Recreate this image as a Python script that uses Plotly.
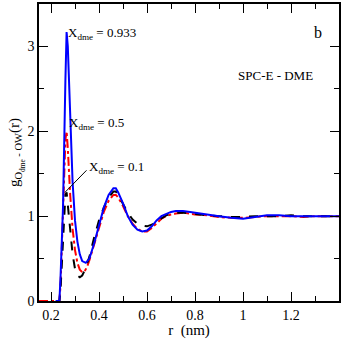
import plotly.graph_objects as go

# radial distances (nm) and g(r)
r_blue = [0.22, 0.235, 0.24, 0.25, 0.26, 0.265, 0.27, 0.28, 0.29, 0.30, 0.31, 0.32, 0.33,
          0.345, 0.36, 0.38, 0.40, 0.42, 0.44, 0.46, 0.47, 0.48, 0.50, 0.52, 0.54, 0.56,
          0.58, 0.60, 0.62, 0.64, 0.66, 0.68, 0.70, 0.72, 0.75, 0.78, 0.80, 0.85, 0.90,
          0.95, 1.0, 1.05, 1.1, 1.15, 1.2, 1.25, 1.3, 1.35, 1.4]
g_blue = [0.0, 0.0, 0.3, 1.1, 2.6, 3.17, 3.0, 2.3, 1.4, 0.95, 0.7, 0.55, 0.47,
          0.45, 0.5, 0.68, 0.9, 1.1, 1.25, 1.33, 1.33, 1.28, 1.15, 1.0, 0.9, 0.84,
          0.82, 0.83, 0.88, 0.95, 1.0, 1.03, 1.05, 1.06, 1.06, 1.05, 1.04, 1.02, 1.0,
          0.98, 0.97, 0.99, 1.01, 1.01, 1.0, 1.0, 1.0, 1.0, 1.0]

r_red = [0.15, 0.235, 0.24, 0.25, 0.26, 0.265, 0.27, 0.28, 0.29, 0.30, 0.31, 0.32, 0.33,
         0.34, 0.35, 0.36, 0.38, 0.40, 0.42, 0.44, 0.46, 0.47, 0.48, 0.50, 0.52, 0.54,
         0.56, 0.58, 0.60, 0.62, 0.64, 0.66, 0.68, 0.70, 0.72, 0.75, 0.78, 0.80, 0.85,
         0.90, 0.95, 1.0, 1.05, 1.1, 1.15, 1.2, 1.25, 1.3, 1.35, 1.4]
g_red = [0.0, 0.0, 0.2, 1.0, 1.9, 2.0, 1.8, 1.25, 0.85, 0.6, 0.45, 0.37, 0.34,
         0.35, 0.4, 0.48, 0.68, 0.88, 1.05, 1.18, 1.25, 1.25, 1.22, 1.12, 1.0, 0.91,
         0.85, 0.82, 0.82, 0.86, 0.92, 0.97, 1.0, 1.02, 1.03, 1.04, 1.03, 1.02, 1.01,
         0.99, 0.98, 0.98, 0.99, 1.0, 1.0, 1.0, 0.99, 1.0, 1.0, 1.0]

r_black = [0.22, 0.235, 0.24, 0.25, 0.26, 0.265, 0.27, 0.28, 0.29, 0.30, 0.31, 0.32,
           0.33, 0.34, 0.36, 0.38, 0.40, 0.42, 0.44, 0.46, 0.47, 0.48, 0.50, 0.52, 0.54,
           0.56, 0.58, 0.60, 0.62, 0.64, 0.66, 0.68, 0.70, 0.72, 0.75, 0.78, 0.80, 0.85,
           0.90, 0.95, 1.0, 1.05, 1.1, 1.15, 1.2, 1.25, 1.3, 1.35, 1.4]
g_black = [0.0, 0.0, 0.15, 0.8, 1.25, 1.28, 1.15, 0.85, 0.55, 0.38, 0.3, 0.28,
           0.3, 0.36, 0.52, 0.75, 0.95, 1.1, 1.22, 1.29, 1.29, 1.25, 1.15, 1.04, 0.96,
           0.91, 0.89, 0.88, 0.9, 0.94, 0.98, 1.01, 1.03, 1.04, 1.04, 1.03, 1.03, 1.01,
           1.0, 0.99, 0.99, 1.0, 1.0, 1.0, 1.01, 1.0, 1.0, 1.0, 1.0]

serif = "Times New Roman, Liberation Serif, serif"
txt = dict(family=serif, color="black", size=13)

fig = go.Figure()
fig.add_trace(go.Scatter(x=r_red, y=g_red, mode="lines",
                         line=dict(color="red", width=2, dash="dashdot")))
fig.add_trace(go.Scatter(x=r_black, y=g_black, mode="lines",
                         line=dict(color="black", width=2, dash="dash")))
fig.add_trace(go.Scatter(x=r_blue, y=g_blue, mode="lines",
                         line=dict(color="blue", width=2)))

# labels on the curves
fig.add_annotation(x=0.262, y=3.15, text="X<sub>dme</sub> = 0.933", showarrow=False,
                   xanchor="left", font=txt)
fig.add_annotation(x=0.265, y=2.09, text="X<sub>dme</sub> = 0.5", showarrow=False,
                   xanchor="left", font=txt)
fig.add_annotation(x=0.35, y=1.57, text="X<sub>dme</sub> = 0.1", showarrow=False,
                   xanchor="left", font=txt)
fig.add_shape(type="line", x0=0.258, y0=1.28, x1=0.348, y1=1.54,
              line=dict(color="black", width=1))
fig.add_annotation(x=1.313, y=3.17, text="b", showarrow=False,
                   font=dict(family=serif, color="black", size=16))
fig.add_annotation(x=1.136, y=2.66, text="SPC-E - DME", showarrow=False, font=txt)

axis_common = dict(showgrid=False, zeroline=False, showline=True, linecolor="black",
                   linewidth=1.5, mirror="allticks", ticks="inside", tickcolor="black",
                   ticklen=9, tickwidth=1,
                   tickfont=dict(family=serif, color="black", size=14))

fig.update_layout(
    width=343, height=339,
    margin=dict(l=39, r=2, t=2, b=36),
    paper_bgcolor="white", plot_bgcolor="white",
    showlegend=False,
    font=dict(family=serif, color="black", size=14),
    xaxis=dict(range=[0.15, 1.4], tickvals=[0.2, 0.4, 0.6, 0.8, 1.0, 1.2],
               ticktext=["0.2", "0.4", "0.6", "0.8", "1", "1.2"],
               minor=dict(dtick=0.1, tick0=0.1, ticks="inside", ticklen=5, tickcolor="black"),
               title=dict(text="r  (nm)", standoff=4,
                          font=dict(family=serif, color="black", size=15)),
               **axis_common),
    yaxis=dict(range=[0, 3.5], tickvals=[0, 1, 2, 3],
               minor=dict(dtick=0.5, ticks="inside", ticklen=5, tickcolor="black"),
               title=dict(text="g<sub>O<sub>dme</sub> - OW</sub>(r)", standoff=4,
                          font=dict(family=serif, color="black", size=15)),
               **axis_common),
)

fig.write_html("out.html", config={"displayModeBar": False},
               post_script="document.body.style.margin='0';")
